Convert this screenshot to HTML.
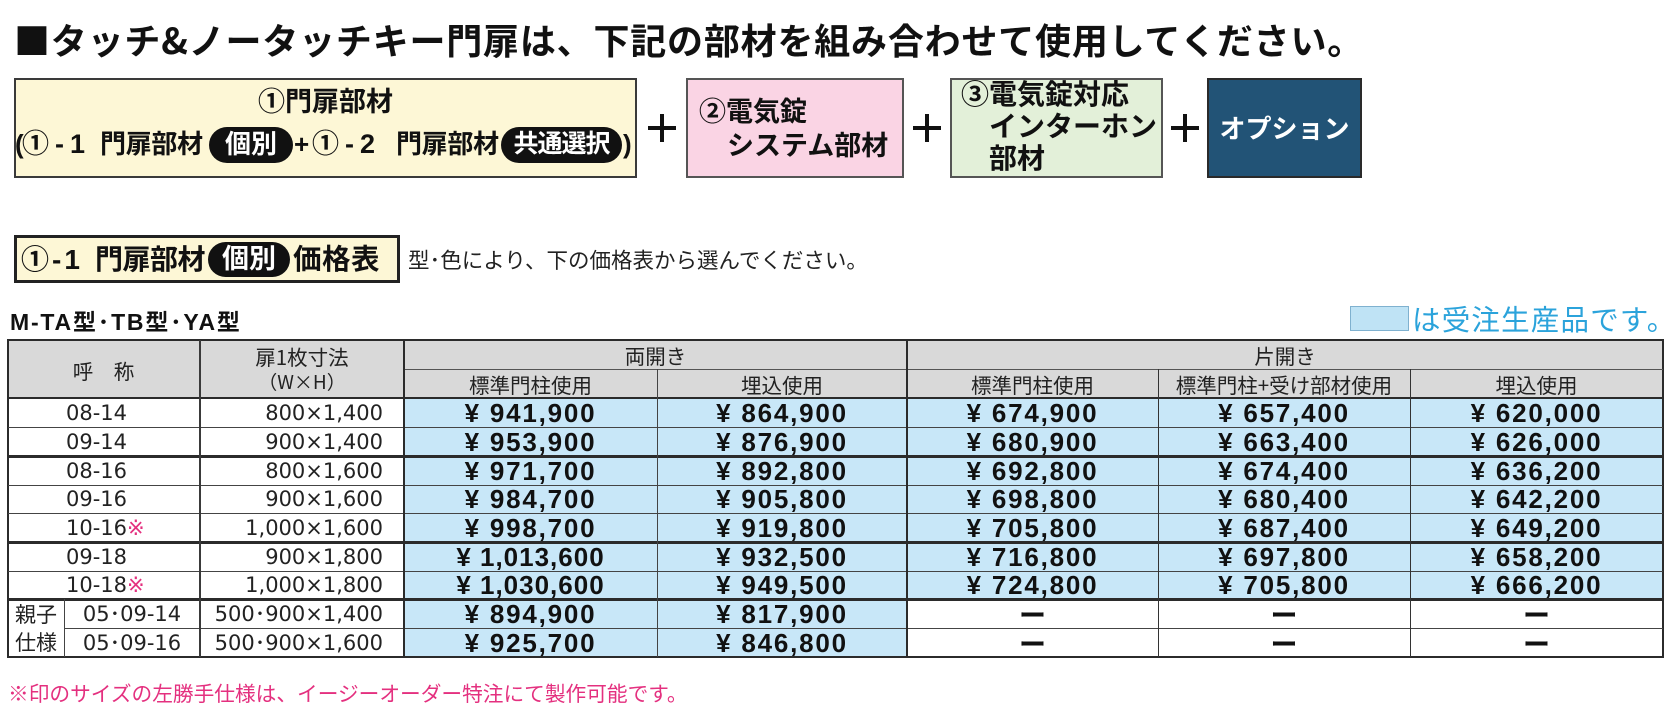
<!DOCTYPE html>
<html lang="ja"><head><meta charset="utf-8">
<style>
*{margin:0;padding:0;box-sizing:border-box}
html,body{width:1674px;height:710px}
body{background:#fff;position:relative;overflow:hidden;font-family:"Liberation Sans","Noto Sans CJK JP",sans-serif;color:#111}
.t{position:absolute;white-space:nowrap;line-height:30px}
.b{font-weight:bold}
.jp{font-family:"Noto Sans CJK JP",sans-serif}
.box{position:absolute;border:2px solid #3a3a3a}
.pill{position:absolute;background:#111;color:#fff;border-radius:20px;text-align:center;font-weight:bold;white-space:nowrap}
.ln{position:absolute;background:#333}
.hd{position:absolute;font-family:"Noto Sans CJK JP",sans-serif;font-size:20.5px;line-height:28px;color:#222;text-align:center;white-space:nowrap}
.c1{position:absolute;font-family:"DejaVu Sans","Noto Sans CJK JP",sans-serif;font-size:21px;line-height:28px;color:#222;white-space:nowrap}
.pr{position:absolute;font-family:"Liberation Sans",sans-serif;font-weight:bold;font-size:26px;line-height:28px;letter-spacing:1.8px;text-align:center;color:#111;white-space:nowrap}
.dash{position:absolute;font-family:"Noto Sans CJK JP",sans-serif;font-weight:bold;font-size:27px;line-height:28px;text-align:center;color:#111}
.pk{color:#e4307f}
.plus{position:absolute;width:28px;height:28px}
.plus:before{content:"";position:absolute;left:0;top:12px;width:28px;height:4px;background:#111}
.plus:after{content:"";position:absolute;left:12px;top:0;width:4px;height:28px;background:#111}
</style></head>
<body>

<!-- Title -->
<div class="t jp b" style="left:14px;top:17px;font-size:36px;line-height:44px;letter-spacing:0.8px">■タッチ&amp;ノータッチキー門扉は、下記の部材を組み合わせて使用してください。</div>

<!-- Box 1 -->
<div class="box" style="left:14px;top:78px;width:623px;height:100px;background:#fdf7d6"></div>
<div class="t b" style="left:14px;width:623px;text-align:center;top:87px;font-size:27px">①門扉部材</div>
<div class="t b" style="left:15px;top:129px;font-size:26px">(</div>
<div class="t b" style="left:22px;top:129px;font-size:27px;letter-spacing:6px">①-1</div>
<div class="t b" style="left:100px;top:129px;font-size:26px;letter-spacing:-0.3px">門扉部材</div>
<div class="pill" style="left:209px;top:127px;width:84px;height:36px;font-size:26px;line-height:35px">個別</div>
<div class="t b" style="left:294px;top:129px;font-size:26px">+</div>
<div class="t b" style="left:312px;top:129px;font-size:27px;letter-spacing:6px">①-2</div>
<div class="t b" style="left:396px;top:129px;font-size:26px;letter-spacing:-0.3px">門扉部材</div>
<div class="pill" style="left:501px;top:127px;width:121px;height:36px;font-size:25px;line-height:35px;letter-spacing:-1px">共通選択</div>
<div class="t b" style="left:623px;top:129px;font-size:26px">)</div>

<div class="plus" style="left:648px;top:114px"></div>

<!-- Box 2 -->
<div class="box" style="left:686px;top:78px;width:218px;height:100px;background:#fad4e4;border-color:#555"></div>
<div class="t b" style="left:699px;top:97px;font-size:27px">②電気錠</div>
<div class="t b" style="left:727px;top:131px;font-size:27px">システム部材</div>

<div class="plus" style="left:913px;top:114px"></div>

<!-- Box 3 -->
<div class="box" style="left:950px;top:78px;width:213px;height:100px;background:#e3f0d9;border-color:#555"></div>
<div class="t b" style="left:961px;top:80px;font-size:28px">③電気錠対応</div>
<div class="t b" style="left:989px;top:112px;font-size:28px">インターホン</div>
<div class="t b" style="left:989px;top:144px;font-size:28px">部材</div>

<div class="plus" style="left:1171px;top:114px"></div>

<!-- Box 4 -->
<div class="box" style="left:1207px;top:78px;width:155px;height:100px;background:#225376;border-color:#2a2a2a"></div>
<div class="t b" style="left:1207px;width:155px;text-align:center;top:114px;font-size:26px;color:#fff">オプション</div>

<!-- Section header -->
<div class="box" style="left:14px;top:235px;width:386px;height:48px;background:#fdf7d6;border:3px solid #222"></div>
<div class="t b" style="left:21px;top:245px;font-size:28px;letter-spacing:3px">①-1</div>
<div class="t b" style="left:95px;top:245px;font-size:28px;letter-spacing:-0.5px">門扉部材</div>
<div class="pill" style="left:208px;top:242px;width:82px;height:35px;font-size:27px;line-height:34px">個別</div>
<div class="t b" style="left:293px;top:245px;font-size:28.5px;letter-spacing:0.5px">価格表</div>
<div class="t" style="left:408px;top:246px;font-size:21.5px;color:#222">型･色により、下の価格表から選んでください。</div>

<!-- Subtitle -->
<div class="t b" style="left:10px;top:307px;font-size:23px;letter-spacing:1.8px">M-TA型･TB型･YA型</div>

<!-- Legend -->
<div style="position:absolute;left:1350px;top:306px;width:59px;height:25px;background:#bfe3f5;border:1px solid #7fb1cf"></div>
<div class="t jp" style="left:1412px;top:302px;font-size:28.5px;line-height:34px;letter-spacing:1.2px;color:#2ba3db">は受注生産品です。</div>

<!-- Table backgrounds -->
<div style="position:absolute;left:8px;top:340px;width:1655px;height:58px;background:#d9d9d9"></div>
<div style="position:absolute;left:404px;top:398px;width:503px;height:259px;background:#c8e7f8"></div>
<div style="position:absolute;left:907px;top:398px;width:756px;height:201px;background:#c8e7f8"></div>

<!-- Table lines -->
<div style="position:absolute;left:7px;top:339px;width:1657px;height:319px;border:2px solid #2b2b2b"></div>
<div class="ln" style="left:7px;top:397px;width:1657px;height:2px;background:#2b2b2b"></div>
<div class="ln" style="left:404px;top:369px;width:1259px;height:1px;background:#555"></div>

<div class="ln" style="left:8px;top:427px;width:1655px;height:1px;background:#444"></div>
<div class="ln" style="left:8px;top:455px;width:1655px;height:2.5px;background:#2b2b2b"></div>
<div class="ln" style="left:8px;top:485px;width:1655px;height:1px;background:#444"></div>
<div class="ln" style="left:8px;top:513px;width:1655px;height:1px;background:#444"></div>
<div class="ln" style="left:8px;top:541px;width:1655px;height:2.5px;background:#2b2b2b"></div>
<div class="ln" style="left:8px;top:571px;width:1655px;height:1px;background:#444"></div>
<div class="ln" style="left:8px;top:598px;width:1655px;height:2.5px;background:#2b2b2b"></div>
<div class="ln" style="left:64px;top:628px;width:1599px;height:1px;background:#444"></div>

<div class="ln" style="left:199px;top:340px;width:1.5px;height:317px;background:#3a3a3a"></div>
<div class="ln" style="left:403px;top:340px;width:2px;height:317px;background:#2b2b2b"></div>
<div class="ln" style="left:657px;top:369px;width:1px;height:288px;background:#444"></div>
<div class="ln" style="left:906px;top:340px;width:2px;height:317px;background:#2b2b2b"></div>
<div class="ln" style="left:1158px;top:369px;width:1px;height:288px;background:#333"></div>
<div class="ln" style="left:1410px;top:369px;width:1px;height:288px;background:#333"></div>
<div class="ln" style="left:64px;top:599px;width:1px;height:58px;background:#444"></div>

<!-- Header text -->
<div class="hd" style="left:8px;width:191px;top:356px">呼　称</div>
<div class="hd" style="left:200px;width:204px;top:342px">扉1枚寸法</div>
<div class="hd" style="left:200px;width:204px;top:368px;font-size:19px">（W×H）</div>
<div class="hd" style="left:404px;width:503px;top:341px">両開き</div>
<div class="hd" style="left:907px;width:756px;top:341px">片開き</div>
<div class="hd" style="left:404px;width:253px;top:370px">標準門柱使用</div>
<div class="hd" style="left:657px;width:250px;top:370px">埋込使用</div>
<div class="hd" style="left:907px;width:251px;top:370px">標準門柱使用</div>
<div class="hd" style="left:1158px;width:252px;top:370px">標準門柱+受け部材使用</div>
<div class="hd" style="left:1410px;width:253px;top:370px">埋込使用</div>

<!-- Row 0 -->
<div class="c1" style="left:66px;top:399px">08-14</div>
<div class="c1" style="left:200px;width:183px;text-align:right;top:399px">800×1,400</div>
<div class="pr" style="left:404px;width:253px;top:399px">¥ 941,900</div>
<div class="pr" style="left:657px;width:250px;top:399px">¥ 864,900</div>
<div class="pr" style="left:907px;width:251px;top:399px">¥ 674,900</div>
<div class="pr" style="left:1158px;width:252px;top:399px">¥ 657,400</div>
<div class="pr" style="left:1410px;width:253px;top:399px">¥ 620,000</div>
<!-- Row 1 -->
<div class="c1" style="left:66px;top:428px">09-14</div>
<div class="c1" style="left:200px;width:183px;text-align:right;top:428px">900×1,400</div>
<div class="pr" style="left:404px;width:253px;top:428px">¥ 953,900</div>
<div class="pr" style="left:657px;width:250px;top:428px">¥ 876,900</div>
<div class="pr" style="left:907px;width:251px;top:428px">¥ 680,900</div>
<div class="pr" style="left:1158px;width:252px;top:428px">¥ 663,400</div>
<div class="pr" style="left:1410px;width:253px;top:428px">¥ 626,000</div>
<!-- Row 2 -->
<div class="c1" style="left:66px;top:457px">08-16</div>
<div class="c1" style="left:200px;width:183px;text-align:right;top:457px">800×1,600</div>
<div class="pr" style="left:404px;width:253px;top:457px">¥ 971,700</div>
<div class="pr" style="left:657px;width:250px;top:457px">¥ 892,800</div>
<div class="pr" style="left:907px;width:251px;top:457px">¥ 692,800</div>
<div class="pr" style="left:1158px;width:252px;top:457px">¥ 674,400</div>
<div class="pr" style="left:1410px;width:253px;top:457px">¥ 636,200</div>
<!-- Row 3 -->
<div class="c1" style="left:66px;top:485px">09-16</div>
<div class="c1" style="left:200px;width:183px;text-align:right;top:485px">900×1,600</div>
<div class="pr" style="left:404px;width:253px;top:485px">¥ 984,700</div>
<div class="pr" style="left:657px;width:250px;top:485px">¥ 905,800</div>
<div class="pr" style="left:907px;width:251px;top:485px">¥ 698,800</div>
<div class="pr" style="left:1158px;width:252px;top:485px">¥ 680,400</div>
<div class="pr" style="left:1410px;width:253px;top:485px">¥ 642,200</div>
<!-- Row 4 -->
<div class="c1" style="left:66px;top:514px">10-16<span class="pk">※</span></div>
<div class="c1" style="left:200px;width:183px;text-align:right;top:514px">1,000×1,600</div>
<div class="pr" style="left:404px;width:253px;top:514px">¥ 998,700</div>
<div class="pr" style="left:657px;width:250px;top:514px">¥ 919,800</div>
<div class="pr" style="left:907px;width:251px;top:514px">¥ 705,800</div>
<div class="pr" style="left:1158px;width:252px;top:514px">¥ 687,400</div>
<div class="pr" style="left:1410px;width:253px;top:514px">¥ 649,200</div>
<!-- Row 5 -->
<div class="c1" style="left:66px;top:543px">09-18</div>
<div class="c1" style="left:200px;width:183px;text-align:right;top:543px">900×1,800</div>
<div class="pr" style="left:404px;width:253px;top:543px;letter-spacing:1px">¥ 1,013,600</div>
<div class="pr" style="left:657px;width:250px;top:543px">¥ 932,500</div>
<div class="pr" style="left:907px;width:251px;top:543px">¥ 716,800</div>
<div class="pr" style="left:1158px;width:252px;top:543px">¥ 697,800</div>
<div class="pr" style="left:1410px;width:253px;top:543px">¥ 658,200</div>
<!-- Row 6 -->
<div class="c1" style="left:66px;top:571px">10-18<span class="pk">※</span></div>
<div class="c1" style="left:200px;width:183px;text-align:right;top:571px">1,000×1,800</div>
<div class="pr" style="left:404px;width:253px;top:571px;letter-spacing:1px">¥ 1,030,600</div>
<div class="pr" style="left:657px;width:250px;top:571px">¥ 949,500</div>
<div class="pr" style="left:907px;width:251px;top:571px">¥ 724,800</div>
<div class="pr" style="left:1158px;width:252px;top:571px">¥ 705,800</div>
<div class="pr" style="left:1410px;width:253px;top:571px">¥ 666,200</div>
<!-- Row 7 -->
<div class="c1 jp" style="left:8px;width:56px;text-align:center;top:600px;font-size:21px;font-family:'Noto Sans CJK JP',sans-serif">親子</div>
<div class="c1" style="left:65px;width:134px;text-align:center;top:600px">05･09-14</div>
<div class="c1" style="left:200px;width:183px;text-align:right;top:600px">500･900×1,400</div>
<div class="pr" style="left:404px;width:253px;top:600px">¥ 894,900</div>
<div class="pr" style="left:657px;width:250px;top:600px">¥ 817,900</div>
<div class="dash" style="left:907px;width:251px;top:600px">ー</div>
<div class="dash" style="left:1158px;width:252px;top:600px">ー</div>
<div class="dash" style="left:1410px;width:253px;top:600px">ー</div>
<!-- Row 8 -->
<div class="c1 jp" style="left:8px;width:56px;text-align:center;top:628px;font-size:21px;font-family:'Noto Sans CJK JP',sans-serif">仕様</div>
<div class="c1" style="left:65px;width:134px;text-align:center;top:629px">05･09-16</div>
<div class="c1" style="left:200px;width:183px;text-align:right;top:629px">500･900×1,600</div>
<div class="pr" style="left:404px;width:253px;top:629px">¥ 925,700</div>
<div class="pr" style="left:657px;width:250px;top:629px">¥ 846,800</div>
<div class="dash" style="left:907px;width:251px;top:629px">ー</div>
<div class="dash" style="left:1158px;width:252px;top:629px">ー</div>
<div class="dash" style="left:1410px;width:253px;top:629px">ー</div>

<!-- Footnote -->
<div class="t pk" style="left:8px;top:680px;font-size:20.7px">※印のサイズの左勝手仕様は、イージーオーダー特注にて製作可能です。</div>

</body></html>
